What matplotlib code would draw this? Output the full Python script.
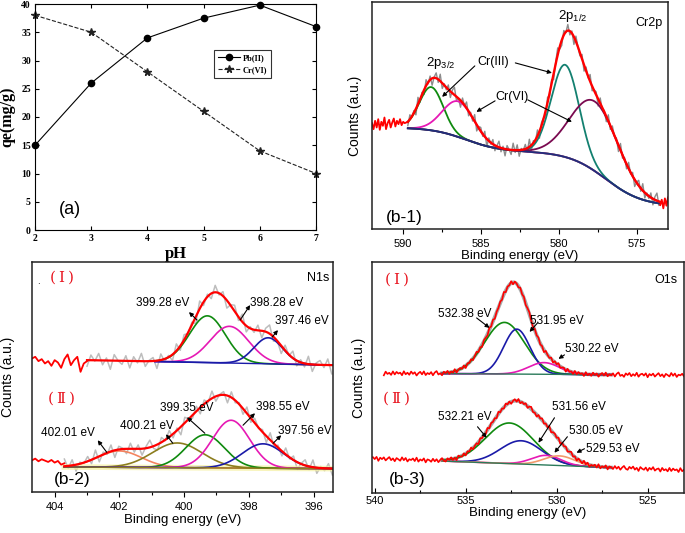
import numpy as np
import matplotlib
matplotlib.use("Agg")
import matplotlib.pyplot as plt
from matplotlib.ticker import MultipleLocator

plt.rcParams['font.family'] = ['Liberation Sans', 'DejaVu Sans']
plt.rcParams['mathtext.fontset'] = 'custom'
plt.rcParams['mathtext.rm'] = 'Liberation Sans'
plt.rcParams['mathtext.it'] = 'Liberation Sans:italic'

# ---------------- (a) adsorption vs pH ----------------
ph = [2, 3, 4, 5, 6, 7]
qe_pb = [15, 26, 34, 37.5, 39.8, 36]
qe_cr = [38, 35, 28, 21, 14, 10]
series_a = ['Pb(II)', 'Cr(VI)']

# ---------------- (b-1) Cr2p fit: centre (eV), height, FWHM ----------------
cr_labels = ['Cr(III) 2p3/2', 'Cr(VI) 2p3/2', 'Cr(III) 2p1/2', 'Cr(VI) 2p1/2']
cr_centers = [588.2, 586.45, 579.6, 577.7]
cr_heights = [130, 107, 277, 209]
cr_fwhm = [1.8, 2.4, 2.1, 3.6]
cr_bg_level = [68, 165, 72]
cr_bg_center = [577.0, 586.0]
cr_bg_width = [1.2, 1.1]
cr_left_raw = [318, 300, 325, 305, 330, 298, 322, 310, 335, 300, 318, 328,
               305, 320, 332, 308, 325, 315, 330, 312, 322, 318, 320, 322]
cr_right_raw = [72, 88, 62, 92, 70, 95]

# ---------------- (b-2) N1s fits ----------------
n1_labels = ['399.28 eV', '398.28 eV', '397.46 eV']
n1_centers = [399.28, 398.6, 397.4]
n1_heights = [140, 110, 78]
n1_fwhm = [1.3, 1.4, 1.05]
n1_base = [395, 380]
n2_labels = ['402.01 eV', '400.21 eV', '399.35 eV', '398.55 eV', '397.56 eV']
n2_centers = [402.0, 400.21, 399.35, 398.55, 397.56]
n2_heights = [49, 74, 99, 143, 73]
n2_fwhm = [1.6, 1.8, 1.4, 1.35, 1.5]
n2_base = [75, 70]
n1_left_raw = [400, 405, 392, 398, 385, 392, 378, 395, 388, 372, 398, 412,
               380, 395, 405, 360, 385, 392]
n2_left_raw = [95, 100, 92, 98, 94, 90, 96, 88, 93, 82, 86]

# ---------------- (b-3) O1s fits ----------------
o1_labels = ['532.38 eV', '531.95 eV', '530.22 eV']
o1_centers = [532.87, 532.19, 530.7]
o1_heights = [155, 135, 35]
o1_fwhm = [2.6, 1.7, 2.0]
o1_base = [360, 354]
o2_labels = ['532.21 eV', '531.56 eV', '530.05 eV', '529.53 eV']
o2_centers = [532.59, 531.95, 530.57, 529.85]
o2_heights = [122, 70, 29, 29]
o2_fwhm = [3.1, 2.7, 1.9, 2.0]
o2_base = [104, 68]

# scatter of the measured counts around the fit (read by eye, relative units)
raw_scatter = [0.3, -0.6, 0.8, -0.2, 0.5, -0.9, 0.1, 0.7, -0.4, 0.9, -0.7, 0.2,
               -0.3, 0.6, -0.8, 0.4, 1.0, -0.5, 0.0, -0.9, 0.6, -0.1, 0.8, -0.6,
               0.3, -0.4, 0.9, -0.8, 0.2, 0.5, -0.3, 0.7, -1.0, 0.4, -0.2, 0.6,
               -0.7, 0.1, 0.8, -0.5, 0.3, -0.9, 0.5, 0.0, -0.6, 0.9, -0.3, 0.7,
               -0.8, 0.2, -0.1, 0.6, -0.5, 1.0, -0.7, 0.3, -0.2, 0.8, -0.9, 0.4,
               0.1, -0.6, 0.7, -0.4, 0.5, -0.8, 0.2, 0.9, -0.3, -0.7, 0.6, -0.1,
               0.8, -0.5, 0.3, -1.0, 0.7, 0.0, -0.4, 0.6, -0.8, 0.5, -0.2, 0.9,
               -0.6, 0.1, 0.4, -0.9, 0.7, -0.3, 0.2, -0.7, 0.8, -0.5, 0.6, -0.1,
               0.3, -0.8, 0.9, -0.4]


def gauss(E, c, h, w):
    return h * np.exp(-4 * np.log(2) * (E - c) ** 2 / w ** 2)


def linbase(E, e0, e1, v):
    return v[0] + (E - e0) * (v[1] - v[0]) / (e1 - e0)


def scatter(n, shift=0):
    return np.resize(np.roll(np.array(raw_scatter), shift), n)


fig = plt.figure(figsize=(6.85, 5.33), dpi=100)

ARW = dict(arrowstyle='-|>', color='black', lw=0.8, mutation_scale=6,
           shrinkA=0, shrinkB=0)
ROMAN_FONT = ['DejaVu Serif', 'Noto Sans CJK SC']


def style_xps(ax, xlim, ylim, major, minor, tdir, tpad, lpad, ylpad):
    ax.set_xlim(*xlim)
    ax.set_ylim(*ylim)
    ax.set_yticks([])
    ax.xaxis.set_major_locator(MultipleLocator(major))
    ax.xaxis.set_minor_locator(MultipleLocator(minor))
    ax.tick_params(axis='x', which='major', direction=tdir, length=3.5,
                   labelsize=8, pad=tpad, width=0.8)
    ax.tick_params(axis='x', which='minor', direction=tdir, length=2.5, width=0.8)
    for s in ax.spines.values():
        s.set_linewidth(1.1)
        s.set_color('#222222')
    ax.set_xlabel('Binding energy (eV)', fontsize=9.5, labelpad=lpad)
    ax.set_ylabel('Counts (a.u.)', fontsize=10, labelpad=ylpad)


# ======================= (a) =======================
axa = fig.add_axes([35 / 685, 1 - 230 / 533, 281 / 685, 226 / 533])
axa.plot(ph, qe_pb, '-', color='black', lw=0.8, marker='o', ms=4.5,
         label=series_a[0], clip_on=False)
axa.plot(ph, qe_cr, '--', color='#222222', lw=0.8, marker='*', ms=5.5,
         label=series_a[1], clip_on=False)
axa.set_xlim(2, 7)
axa.set_ylim(0, 40)
axa.set_xticks(ph)
axa.set_yticks(range(0, 41, 5))
axa.tick_params(direction='in', top=True, right=True, length=3, labelsize=7, pad=3)
for lab in axa.get_xticklabels() + axa.get_yticklabels():
    lab.set_fontfamily('Liberation Serif')
    lab.set_fontweight('bold')
for s in axa.spines.values():
    s.set_linewidth(0.8)
axa.set_xlabel('pH', fontsize=12, fontweight='bold', family='Liberation Serif',
               labelpad=2)
axa.set_ylabel('qe(mg/g)', fontsize=11.5, fontweight='bold',
               family='Liberation Serif', labelpad=4)
axa.text(2.62, 3.6, '(a)', fontsize=13, ha='center', va='center')
leg = axa.legend(loc='upper left', bbox_to_anchor=(0.623, 0.815),
                 prop={'family': 'Liberation Serif', 'weight': 'bold', 'size': 6},
                 frameon=True, fancybox=False, edgecolor='black', handlelength=2.6,
                 borderpad=0.5, labelspacing=0.5, handletextpad=0.3)
leg.get_frame().set_linewidth(0.8)

# ======================= (b-1) Cr2p =======================
ax1 = fig.add_axes([372 / 685, 1 - 229 / 533, 296 / 685, 227 / 533])
E1 = np.linspace(589.7, 573.5, 500)


def cr_bg(E):
    return (cr_bg_level[0]
            + cr_bg_level[1] / (1 + np.exp(-(E - cr_bg_center[0]) / cr_bg_width[0]))
            + cr_bg_level[2] / (1 + np.exp(-(E - cr_bg_center[1]) / cr_bg_width[1])))


def cr_env(E):
    tot = cr_bg(E)
    for c, h, w in zip(cr_centers, cr_heights, cr_fwhm):
        tot = tot + gauss(E, c, h, w)
    return tot


Er1 = np.arange(589.7, 573.45, -0.13)
ax1.plot(Er1, cr_env(Er1) + 23 * scatter(len(Er1), 7), color='#8c8c8c', lw=1.0)
cr_colors = ['#0f8a0f', '#e619b4', '#138070', '#7a0a50']
for c, h, w, col in zip(cr_centers, cr_heights, cr_fwhm, cr_colors):
    ax1.plot(E1, cr_bg(E1) + gauss(E1, c, h, w), color=col, lw=1.3)
ax1.plot(E1, cr_bg(E1), color='#1f2f7a', lw=1.3)
ax1.plot(E1, cr_env(E1), color='#ff0000', lw=1.7)
El = np.linspace(592.0, 589.7, len(cr_left_raw))
ax1.plot(El, cr_left_raw, color='#ff0000', lw=1.3)
Er = np.linspace(573.5, 573.0, len(cr_right_raw))
ax1.plot(Er, cr_right_raw, color='#ff0000', lw=1.3)
style_xps(ax1, (592.0, 573.0), (0, 682), 5, 2.5, 'out', 3.5, 1, 7)
ax1.text(574.2, 619, 'Cr2p', fontsize=9, ha='center', va='center')
ax1.text(579.1, 640, '2p$_{1/2}$', fontsize=9.5, ha='center', va='center')
ax1.text(587.6, 499, '2p$_{3/2}$', fontsize=9.5, ha='center', va='center')
ax1.text(584.2, 502, 'Cr(III)', fontsize=9, ha='center', va='center')
ax1.text(583.0, 397, 'Cr(VI)', fontsize=9, ha='center', va='center')
ax1.text(589.9, 36, '(b-1)', fontsize=12.5, ha='center', va='center')
for head, tail in [((587.5, 397), (585.4, 490)), ((580.45, 469), (582.8, 499)),
                   ((585.3, 352), (584.1, 385)), ((579.17, 322), (582.0, 388))]:
    ax1.annotate('', xy=head, xytext=tail, arrowprops=ARW)

# ======================= (b-2) N1s =======================
ax2 = fig.add_axes([32 / 685, 1 - 492 / 533, 301 / 685, 230 / 533])
EN = np.linspace(403.0, 395.4, 400)
EC1 = np.linspace(400.9, 395.4, 300)
EC2 = np.linspace(403.7, 395.4, 400)


def n1_bl(E):
    return linbase(E, 403.0, 395.4, n1_base)


def n2_bl(E):
    return linbase(E, 403.7, 395.4, n2_base)


def n_env(E, bl, cs, hs, ws):
    tot = bl(E)
    for c, h, w in zip(cs, hs, ws):
        tot = tot + gauss(E, c, h, w)
    return tot


# spectrum I
Eg1 = np.arange(403.0, 395.35, -0.12)
ax2.plot(Eg1, n_env(Eg1, n1_bl, n1_centers, n1_heights, n1_fwhm)
         + 26 * scatter(len(Eg1), 31), color='#bdbdbd', lw=1.1)
n1_colors = ['#0f8a0f', '#e619b4', '#1a1aa8']
for c, h, w, col in zip(n1_centers, n1_heights, n1_fwhm, n1_colors):
    ax2.plot(EC1, n1_bl(EC1) + gauss(EC1, c, h, w), color=col, lw=1.2)
ax2.plot(EC1, n1_bl(EC1), color='#1a1aa8', lw=1.0)
ax2.plot(EN, n_env(EN, n1_bl, n1_centers, n1_heights, n1_fwhm), color='#ff0000', lw=1.6)
ax2.plot(np.linspace(404.7, 403.0, len(n1_left_raw)), n1_left_raw, color='#ff0000', lw=1.3)

# spectrum II
Eg2 = np.arange(403.7, 395.35, -0.12)
ax2.plot(Eg2, n_env(Eg2, n2_bl, n2_centers, n2_heights, n2_fwhm)
         + 24 * scatter(len(Eg2), 55), color='#bdbdbd', lw=1.1)
ax2.plot(EC2, n2_bl(EC2), color='#f5f0a0', lw=4, alpha=0.7)
n2_colors = ['#f4845f', '#8c7d1e', '#0f8a0f', '#e619b4', '#1a1aa8']
for c, h, w, col in zip(n2_centers, n2_heights, n2_fwhm, n2_colors):
    ax2.plot(EC2, n2_bl(EC2) + gauss(EC2, c, h, w), color=col, lw=1.2)
ax2.plot(EC2, n2_bl(EC2), color='#8c7d1e', lw=1.0)
ax2.plot(EC2, n_env(EC2, n2_bl, n2_centers, n2_heights, n2_fwhm), color='#ff0000', lw=1.6)
ax2.plot(np.linspace(404.7, 403.7, len(n2_left_raw)), n2_left_raw, color='#ff0000', lw=1.3)

style_xps(ax2, (404.7, 395.4), (0, 689), 2, 1, 'out', 3.5, 2, 12)
ax2.text(403.78, 641, '(\u2009Ⅰ\u2009)', color='#e8141e', fontsize=11,
         family=ROMAN_FONT, ha='center', va='center')
ax2.text(403.78, 281, '(\u2009Ⅱ\u2009)', color='#e8141e', fontsize=11,
         family=ROMAN_FONT, ha='center', va='center')
ax2.text(404.5, 618, '.', fontsize=7, ha='center', va='bottom')
ax2.text(395.86, 641, 'N1s', fontsize=9, ha='center', va='center')
ax2.text(403.47, 37, '(b-2)', fontsize=12.5, ha='center', va='center')
n_text_pos = [(400.66, 566), (397.13, 566), (396.35, 512),
              (403.6, 176), (401.15, 197), (399.91, 251), (396.94, 254), (396.26, 182)]
for lab, (x, y) in zip(n1_labels + n2_labels, n_text_pos):
    ax2.text(x, y, lab, fontsize=8.5, ha='center', va='center')
for head, tail in [((399.85, 539), (399.6, 515)), ((397.96, 560), (398.27, 515)),
                   ((397.1, 485), (397.28, 464)), ((402.67, 155), (402.39, 119)),
                   ((400.56, 173), (400.35, 146)), ((399.91, 224), (399.36, 176)),
                   ((397.81, 236), (398.18, 200)), ((397.0, 170), (397.25, 146))]:
    ax2.annotate('', xy=head, xytext=tail, arrowprops=ARW)

# ======================= (b-3) O1s =======================
ax3 = fig.add_axes([372 / 685, 1 - 493 / 533, 312 / 685, 231 / 533])
EO = np.linspace(536.3, 527.0, 400)


def o1_bl(E):
    return linbase(E, 540.0, 523.0, o1_base)


def o2_bl(E):
    return linbase(E, 540.0, 523.0, o2_base)


# spectrum I
ax3.plot(EO, n_env(EO, o1_bl, o1_centers, o1_heights, o1_fwhm), color='#a8a8a8', lw=2.6)
o1_colors = ['#0f8a0f', '#1a1aa8', '#e619b4']
for c, h, w, col in zip(o1_centers, o1_heights, o1_fwhm, o1_colors):
    ax3.plot(EO, o1_bl(EO) + gauss(EO, c, h, w), color=col, lw=1.2)
ax3.plot(EO, o1_bl(EO), color='#2a7a5a', lw=1.0)
Ed1 = np.arange(539.5, 522.95, -0.1)
ax3.plot(Ed1, n_env(Ed1, o1_bl, o1_centers, o1_heights, o1_fwhm)
         + 7 * scatter(len(Ed1), 13), color='#ff0000', lw=1.2)

# spectrum II
ax3.plot(EO, n_env(EO, o2_bl, o2_centers, o2_heights, o2_fwhm), color='#a8a8a8', lw=2.6)
o2_colors = ['#0f8a0f', '#1a1aa8', '#e619b4', '#f29a6b']
for c, h, w, col in zip(o2_centers, o2_heights, o2_fwhm, o2_colors):
    ax3.plot(EO, o2_bl(EO) + gauss(EO, c, h, w), color=col, lw=1.2)
ax3.plot(EO, o2_bl(EO), color='#2a7a5a', lw=1.0)
Ed2 = np.arange(540.1, 522.95, -0.1)
ax3.plot(Ed2, n_env(Ed2, o2_bl, o2_centers, o2_heights, o2_fwhm)
         + 7 * scatter(len(Ed2), 71), color='#ff0000', lw=1.2)

style_xps(ax3, (540.15, 523.0), (0, 694), 5, 2.5, 'in', 2.5, 0.5, 4)
ax3.text(538.8, 640, '(\u2009Ⅰ\u2009)', color='#e8141e', fontsize=11,
         family=ROMAN_FONT, ha='center', va='center')
ax3.text(538.8, 283, '(\u2009Ⅱ\u2009)', color='#e8141e', fontsize=11,
         family=ROMAN_FONT, ha='center', va='center')
ax3.text(523.97, 640, 'O1s', fontsize=9, ha='center', va='center')
ax3.text(538.24, 40, '(b-3)', fontsize=12.5, ha='center', va='center')
o_text_pos = [(535.06, 538), (530.0, 517), (528.04, 433),
              (535.06, 229), (528.75, 259), (527.82, 187), (526.94, 133)]
for lab, (x, y) in zip(o1_labels + o2_labels, o_text_pos):
    ax3.text(x, y, lab, fontsize=8.5, ha='center', va='center')
for head, tail in [((533.69, 496), (534.4, 526)), ((531.49, 484), (531.05, 511)),
                   ((529.9, 403), (529.57, 415)), ((533.85, 166), (534.35, 199)),
                   ((531.0, 151), (530.12, 226)), ((530.12, 121), (529.41, 169)),
                   ((528.91, 121), (528.47, 133))]:
    ax3.annotate('', xy=head, xytext=tail, arrowprops=ARW)

fig.savefig('out.png', dpi=100)
